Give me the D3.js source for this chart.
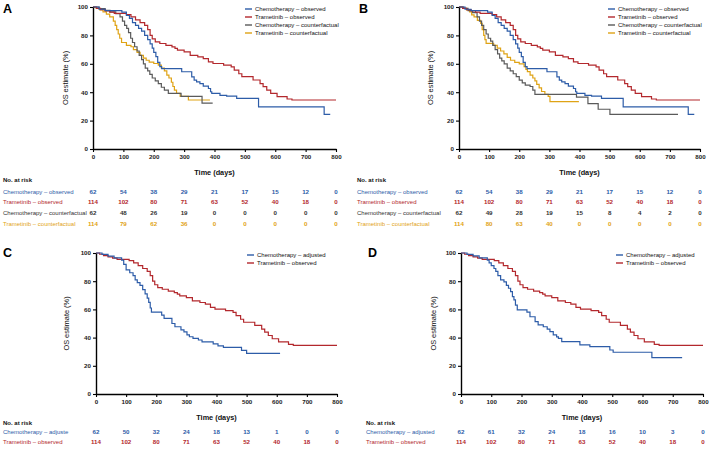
<!DOCTYPE html>
<html><head><meta charset="utf-8">
<script src="https://cdn.jsdelivr.net/npm/d3@7"></script>
<style>body{margin:0;background:#fff}svg{display:block;font-family:"Liberation Sans",Arial,sans-serif}</style>
</head><body><svg id="c" width="709" height="453"></svg>
<script>
// ---------- data ----------
const timeTicks = [0,100,200,300,400,500,600,700,800];
const survTicks = [0,20,40,60,80,100];

const trametinibObserved = [[0,100],[12,99.1],[25,98.2],[40,97.3],[55,96.4],[70,95.5],[110,94.6],[125,93],[140,91],[155,89],[170,87],[180,84],[188,80],[195,77.5],[205,75.5],[220,74.3],[240,73],[260,71.9],[270,70.8],[278,69.6],[300,68.4],[320,66],[345,64.9],[363,63.7],[380,61.4],[395,60.2],[430,59.1],[455,57.9],[465,55.6],[480,53],[490,50.9],[527,48.6],[550,46],[560,43.9],[572,41.5],[585,39.2],[606,36.9],[639,35.2],[655,34.5],[800,34.5]];
const chemoObserved = [[0,100],[20,98.4],[40,97.5],[95,96.4],[110,94],[120,92],[130,89],[140,87],[150,85],[160,83],[170,80],[180,77],[188,74],[195,71],[200,68],[207,65],[213,61],[220,58],[226,56.6],[292,54.4],[325,50.8],[333,48.5],[341,47.3],[352,46],[363,44.3],[380,42.6],[387,40.3],[391,39.2],[418,37.8],[440,37.2],[473,35.6],[545,29.7],[761,24.4],[781,24.4]];
const chemoCounterfactualA = [[0,100],[20,98.8],[40,97.6],[56,96.5],[75,95.3],[89,93],[97,90],[104,87],[111,85],[117,82],[124,78],[130,75],[137,72],[145,69],[152,66],[160,63],[166,60],[172,57],[180,55],[187,52.5],[195,50],[205,48],[215,46],[225,43.5],[235,41.5],[248,39.2],[290,37],[359,32.3],[394,32.3]];
const trametinibCounterfactualA = [[0,100],[10,99],[22,98],[33,96.5],[44,95],[55,93],[67,90],[73,87],[78,84],[83,81],[88,78],[94,75],[110,73],[125,72],[133,70],[145,68],[155,66],[166,64],[175,62.5],[185,61.2],[200,60.2],[215,59],[225,57],[235,55],[243,52],[250,50],[258,47],[263,44],[268,41.5],[275,39.2],[287,37],[314,34.5],[385,34.5]];
const chemoCounterfactualB = [[0,100],[15,99],[30,97.5],[45,96],[60,93],[68,90],[75,87],[82,84],[90,81],[97,78],[105,76],[112,73],[120,70],[128,67],[135,64],[142,62],[150,60],[160,57],[170,55],[180,53],[190,51],[200,48.5],[210,46.5],[220,45],[236,44],[245,41.5],[252,38.5],[390,36.5],[428,32],[462,28],[501,24.4],[727,24.4]];
const trametinibCounterfactualB = [[0,100],[12,99],[25,98],[35,96.5],[42,94.4],[50,93],[61,90.6],[72,88.5],[77,84],[82,80],[86,77],[90,74.4],[115,73],[127,71],[138,69],[149,67],[160,64.5],[171,62.5],[185,61],[200,60],[216,58],[222,56],[227,54.5],[236,52],[245,50],[252,48],[258,45.5],[266,43],[274,40.5],[285,38.5],[296,37],[302,33.4],[398,33.4]];
const chemoAdjustedC = [[0,100],[20,99],[40,97.8],[60,96.5],[85,95],[92,92],[100,88],[112,86],[123,84],[130,81],[137,79],[146,77],[155,74],[163,71],[170,68],[175,65],[180,61],[184,58],[218,56],[226,53.7],[252,50],[262,47.7],[282,45.5],[292,44],[302,42],[310,40.6],[322,39.5],[340,38.3],[352,37],[389,35.6],[405,34.2],[423,33],[483,31],[500,28.8],[611,28.8]];
const chemoAdjustedD = [[0,100],[20,99],[40,98],[60,96.5],[87,95],[93,93],[100,91],[109,89],[115,87],[122,84],[131,81],[142,79.5],[150,77],[157,75],[164,72.6],[170,69],[175,66.7],[180,63],[186,59.6],[218,58],[228,54.8],[245,51.3],[255,49],[272,47.7],[285,46],[294,44.2],[305,42],[316,40.5],[322,39.5],[333,37.1],[393,34.8],[426,33.6],[492,31.2],[503,29.6],[631,25.8],[731,25.8]];

const riskChemoObserved = [62,54,38,29,21,17,15,12,0];
const riskTrametinibObserved = [114,102,80,71,63,52,40,18,0];
const riskChemoCfA = [62,48,26,19,0,0,0,0,0];
const riskTramCfA = [114,79,62,36,0,0,0,0,0];
const riskChemoCfB = [62,49,28,19,15,8,4,2,0];
const riskTramCfB = [114,80,63,40,0,0,0,0,0];
const riskChemoAdjC = [62,50,32,24,18,13,1,0,0];
const riskChemoAdjD = [62,61,32,24,18,16,10,3,0];

const BLUE = "#2d5ca8", RED = "#b3282d", GREY = "#5a5a5a", GOLD = "#dfa315", GREYTXT = "#333";

// ---------- layout ----------
const panels = [
  {letter:"A", lx:3, ly:13, x0:93, x1:336, yTop:7, yBot:149, ylabX:66,
   leg:{x:245, y:9}, tab:{x:3, y:180},
   series:[
     {name:"Chemotherapy – observed", data:chemoObserved, color:BLUE, risk:riskChemoObserved, txt:BLUE},
     {name:"Trametinib – observed", data:trametinibObserved, color:RED, risk:riskTrametinibObserved, txt:RED},
     {name:"Chemotherapy – counterfactual", data:chemoCounterfactualA, color:GREY, risk:riskChemoCfA, txt:GREYTXT},
     {name:"Trametinib – counterfactual", data:trametinibCounterfactualA, color:GOLD, risk:riskTramCfA, txt:GOLD}]},
  {letter:"B", lx:359, ly:13, x0:459, x1:700, yTop:7, yBot:149, ylabX:431,
   leg:{x:608, y:9}, tab:{x:357, y:180},
   series:[
     {name:"Chemotherapy – observed", data:chemoObserved, color:BLUE, risk:riskChemoObserved, txt:BLUE},
     {name:"Trametinib – observed", data:trametinibObserved, color:RED, risk:riskTrametinibObserved, txt:RED},
     {name:"Chemotherapy – counterfactual", data:chemoCounterfactualB, color:GREY, risk:riskChemoCfB, txt:GREYTXT},
     {name:"Trametinib – counterfactual", data:trametinibCounterfactualB, color:GOLD, risk:riskTramCfB, txt:GOLD}]},
  {letter:"C", lx:3, ly:257, x0:96, x1:337, yTop:253, yBot:394, ylabX:67,
   leg:{x:247, y:255}, tab:{x:3, y:423},
   series:[
     {name:"Chemotherapy – adjusted", tname:"Chemotherapy – adjuste", data:chemoAdjustedC, color:BLUE, risk:riskChemoAdjC, txt:BLUE},
     {name:"Trametinib – observed", data:trametinibObserved, color:RED, risk:riskTrametinibObserved, txt:RED}]},
  {letter:"D", lx:368, ly:257, x0:461, x1:703, yTop:253, yBot:394, ylabX:434,
   leg:{x:616, y:255}, tab:{x:366, y:423},
   series:[
     {name:"Chemotherapy – adjusted", data:chemoAdjustedD, color:BLUE, risk:riskChemoAdjD, txt:BLUE},
     {name:"Trametinib – observed", data:trametinibObserved, color:RED, risk:riskTrametinibObserved, txt:RED}]}
];

const svg = d3.select("#c");

panels.forEach(p => {
  const g = svg.append("g");
  const x = d3.scaleLinear().domain([0,800]).range([p.x0,p.x1]);
  const y = d3.scaleLinear().domain([0,100]).range([p.yBot,p.yTop]);

  g.append("text").attr("x",p.lx).attr("y",p.ly).text(p.letter)
    .attr("font-size",12.5).attr("font-weight","bold").attr("fill","#000");

  // curves
  const line = d3.line().x(d=>x(d[0])).y(d=>y(d[1])).curve(d3.curveStepAfter);
  p.series.slice().reverse().forEach(s => {
    g.append("path").datum(s.data).attr("d",line)
      .attr("fill","none").attr("stroke",s.color).attr("stroke-width",1.2);
  });

  // axes
  const xa = g.append("g").attr("transform",`translate(0,${p.yBot})`)
    .call(d3.axisBottom(x).tickValues(timeTicks).tickSize(3).tickSizeOuter(0).tickPadding(2.5));
  const ya = g.append("g").attr("transform",`translate(${p.x0},0)`)
    .call(d3.axisLeft(y).tickValues(survTicks).tickSize(3).tickSizeOuter(0).tickPadding(2));
  [xa,ya].forEach(a => {
    a.select(".domain").attr("stroke","#000").attr("stroke-width",1.4);
    a.selectAll(".tick line").attr("stroke","#000").attr("stroke-width",1.1);
    a.selectAll(".tick text").attr("font-size",6.2).attr("font-weight","bold")
      .attr("fill","#222").attr("font-family","Liberation Sans, Arial, sans-serif");
  });

  g.append("text").attr("x",(p.x0+p.x1)/2).attr("y",p.yBot+25.5).attr("text-anchor","middle")
    .attr("font-size",7.3).attr("font-weight","bold").attr("fill","#111").text("Time (days)");
  g.append("text").attr("transform",`translate(${p.ylabX},${(p.yTop+p.yBot)/2}) rotate(-90)`)
    .attr("text-anchor","middle").attr("dominant-baseline","middle")
    .attr("font-size",7.4).attr("fill","#111").text("OS estimate (%)");

  // legend
  p.series.forEach((s,i) => {
    const ly = p.leg.y + i*8;
    g.append("line").attr("x1",p.leg.x).attr("x2",p.leg.x+7).attr("y1",ly).attr("y2",ly)
      .attr("stroke",s.color).attr("stroke-width",1.4);
    g.append("text").attr("x",p.leg.x+10).attr("y",ly).attr("dominant-baseline","middle")
      .attr("font-size",6).attr("fill","#111").text(s.name);
  });

  // risk table
  g.append("text").attr("x",p.tab.x).attr("y",p.tab.y).attr("dominant-baseline","middle")
    .attr("font-size",6).attr("font-weight",600).attr("fill","#111").text("No. at risk");
  const rowStep = p.series.length===4 ? 10.7 : 10;
  p.series.forEach((s,i) => {
    const ry = p.tab.y + 12 + i*rowStep - (p.series.length===4?0:3);
    g.append("text").attr("x",p.tab.x).attr("y",ry).attr("dominant-baseline","middle")
      .attr("font-size",6).attr("fill",s.txt).text(s.tname||s.name);
    g.selectAll(null).data(s.risk).enter().append("text")
      .attr("x",(d,j)=>x(timeTicks[j])).attr("y",ry).attr("text-anchor","middle")
      .attr("dominant-baseline","middle").attr("font-size",6.2).attr("font-weight",600)
      .attr("fill",s.txt).text(d=>d);
  });
});
</script></body></html>
